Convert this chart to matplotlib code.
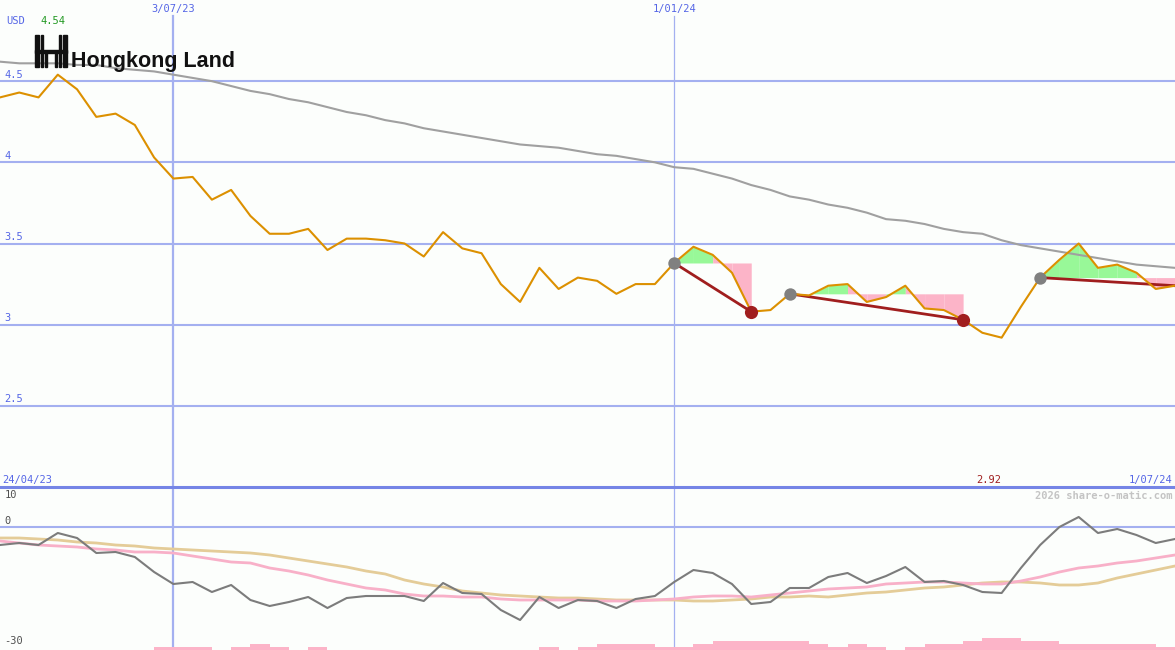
import datetime as dt
import matplotlib
matplotlib.use("Agg")
import matplotlib.pyplot as plt
from matplotlib.patches import Rectangle

# weekly data, first point 1 May 2023
start = dt.date(2023, 5, 1)

price = [4.40, 4.43, 4.40, 4.54, 4.45, 4.28, 4.30, 4.23, 4.03, 3.90,
         3.91, 3.77, 3.83, 3.67, 3.56, 3.56, 3.59, 3.46, 3.53, 3.53,
         3.52, 3.50, 3.42, 3.57, 3.47, 3.44, 3.25, 3.14, 3.35, 3.22,
         3.29, 3.27, 3.19, 3.25, 3.25, 3.38, 3.48, 3.43, 3.32, 3.08,
         3.09, 3.19, 3.18, 3.24, 3.25, 3.14, 3.17, 3.24, 3.10, 3.09,
         3.03, 2.95, 2.92, 3.11, 3.29, 3.40, 3.50, 3.35, 3.37, 3.32,
         3.22, 3.24]

ma_long = [4.62, 4.61, 4.61, 4.61, 4.60, 4.60, 4.58, 4.57, 4.56, 4.54,
           4.52, 4.50, 4.47, 4.44, 4.42, 4.39, 4.37, 4.34, 4.31, 4.29,
           4.26, 4.24, 4.21, 4.19, 4.17, 4.15, 4.13, 4.11, 4.10, 4.09,
           4.07, 4.05, 4.04, 4.02, 4.00, 3.97, 3.96, 3.93, 3.90, 3.86,
           3.83, 3.79, 3.77, 3.74, 3.72, 3.69, 3.65, 3.64, 3.62, 3.59,
           3.57, 3.56, 3.52, 3.49, 3.47, 3.45, 3.43, 3.41, 3.39, 3.37,
           3.36, 3.35]

osc = [-4.5, -4.0, -4.5, -1.5, -2.75, -6.5, -6.25, -7.5, -11.25, -14.25,
       -13.75, -16.25, -14.5, -18.25, -19.75, -18.75, -17.5, -20.25, -17.75, -17.25,
       -17.25, -17.25, -18.5, -14.0, -16.5, -16.75, -20.75, -23.25, -17.5, -20.25,
       -18.25, -18.5, -20.25, -18.0, -17.25, -13.75, -10.75, -11.5, -14.25, -19.25,
       -18.75, -15.25, -15.25, -12.5, -11.5, -14.0, -12.25, -10.0, -13.75, -13.5,
       -14.5, -16.25, -16.5, -10.25, -4.5, 0.0, 2.5, -1.5, -0.5, -2.0,
       -4.0, -3.0]

osc_fast = [-3.5, -4.0, -4.5, -4.75, -5.0, -5.5, -5.75, -6.25, -6.25, -6.5,
            -7.25, -8.0, -8.75, -9.0, -10.25, -11.0, -12.0, -13.25, -14.25, -15.25,
            -15.75, -16.75, -17.25, -17.25, -17.5, -17.5, -18.0, -18.25, -18.25, -18.25,
            -18.25, -18.5, -18.5, -18.5, -18.25, -18.0, -17.5, -17.25, -17.25, -17.5,
            -17.0, -16.5, -16.0, -15.5, -15.25, -15.0, -14.25, -14.0, -13.75, -13.75,
            -14.0, -14.25, -14.25, -13.5, -12.5, -11.25, -10.25, -9.75, -9.0, -8.5,
            -7.75, -7.0]

osc_slow = [-2.75, -2.75, -3.0, -3.25, -3.75, -4.0, -4.5, -4.75, -5.25, -5.5,
            -5.75, -6.0, -6.25, -6.5, -7.0, -7.75, -8.5, -9.25, -10.0, -11.0,
            -11.75, -13.25, -14.25, -15.0, -16.0, -16.5, -17.0, -17.25, -17.5, -17.75,
            -17.75, -18.0, -18.25, -18.25, -18.25, -18.25, -18.5, -18.5, -18.25, -18.0,
            -17.5, -17.5, -17.25, -17.5, -17.0, -16.5, -16.25, -15.75, -15.25, -15.0,
            -14.5, -14.0, -13.75, -13.75, -14.0, -14.5, -14.5, -14.0, -12.75, -11.75,
            -10.75, -9.75]

vol_level = [0, 0, 0, 0, 0, 0, 0, 0, 1, 1,
             1, 0, 1, 2, 1, 0, 1, 0, 0, 0,
             0, 0, 0, 0, 0, 0, 0, 0, 1, 0,
             1, 2, 2, 2, 1, 1, 2, 3, 3, 3,
             3, 3, 2, 1, 2, 1, 0, 1, 2, 2,
             3, 4, 4, 3, 3, 2, 2, 2, 2, 2,
             1, 1]

# swing segments: start point, end point
trend_start = [35, 41, 54]
trend_end = [39, 50, 61]
low_marks = [39, 50]

price_ticks = [2.5, 3, 3.5, 4, 4.5]
osc_ticks = [10, 0, -30]
date_marks = [dt.date(2023, 7, 3), dt.date(2024, 1, 1)]
date_labels = ["3/07/23", "1/01/24"]

dates = [start + dt.timedelta(weeks=i) for i in range(len(price))]

BG = "#fcfefc"
GRID = "#a4b0f0"
LABEL = "#5566e6"
GREEN = "#98f898"
PINK = "#fcb4c8"
TREND = "#a01e1e"
MONO = "DejaVu Sans Mono"

fig = plt.figure(figsize=(11.75, 6.5), dpi=100, facecolor=BG)
ax = fig.add_axes([0, 163 / 650, 1, 487 / 650])
ax_low = fig.add_axes([0, 0, 1, 163 / 650])
for a in (ax, ax_low):
    a.set_axis_off()
    a.set_xlim(start, dates[-1])
ax.set_ylim(2.0, 5.0)
ax_low.set_ylim(-30.75, 10)

# price panel
for t in price_ticks:
    ax.axhline(t, color=GRID, lw=1.5, zorder=0)
    ax.text(0.004, t + 0.01, f"{t:g}", transform=ax.get_yaxis_transform(),
            color=LABEL, fontsize=7.5, family=MONO, va="bottom")
ax.axvline(date_marks[0], ymax=1 - 16 / 487, color=GRID, lw=1.6, zorder=0)
ax.axvline(date_marks[1], ymax=1 - 16 / 487, color=GRID, lw=0.9, zorder=0)
for d, lab in zip(date_marks, date_labels):
    ax.text(d, 0.992, lab, transform=ax.get_xaxis_transform(), ha="center",
            va="top", color=LABEL, fontsize=7.5, family=MONO)

ax.plot(dates, ma_long, color="#a0a0a0", lw=1.5, zorder=2)

for s, e in zip(trend_start, trend_end):
    level = price[s]
    for i in range(s, e):
        c = GREEN if price[i + 1] >= level else PINK
        ax.fill_between(dates[i:i + 2], price[i:i + 2], level, color=c, lw=0, zorder=1)
    ax.plot([dates[s], dates[e]], [price[s], price[e]], color=TREND, lw=2.0, zorder=3)

ax.plot(dates, price, color="#dc9000", lw=1.5, zorder=4)
ax.scatter([dates[s] for s in trend_start], [price[s] for s in trend_start],
           s=80, color="#808080", zorder=5, lw=0)
ax.scatter([dates[i] for i in low_marks], [price[i] for i in low_marks],
           s=90, color=TREND, zorder=5, lw=0)

hi = max(price)
lo = min(price)
ax.text(0.005, 0.951, "USD", transform=ax.transAxes, color=LABEL, fontsize=7.5, family=MONO)
ax.text(0.034, 0.951, f"{hi:.2f}", transform=ax.transAxes, color="#229922",
        fontsize=7.5, family=MONO)

# logo
bars = [(35, 4), (41, 2), (59, 2), (63, 4)]
for x0, w in bars:
    fig.patches.append(Rectangle((x0 / 1175, 1 - 67 / 650), w / 1175, 32 / 650,
                                 transform=fig.transFigure, color="#111111"))
fig.patches.append(Rectangle((35 / 1175, 1 - 53 / 650), 32 / 1175, 3 / 650,
                             transform=fig.transFigure, color="#111111"))
fig.patches.append(Rectangle((45 / 1175, 1 - 67 / 650), 2 / 1175, 14 / 650,
                             transform=fig.transFigure, color="#111111"))
fig.patches.append(Rectangle((55 / 1175, 1 - 67 / 650), 2 / 1175, 14 / 650,
                             transform=fig.transFigure, color="#111111"))
fig.text(71 / 1175, 1 - 67 / 650, "Hongkong Land", fontsize=15.5, weight="bold",
         family="Liberation Sans", color="#111111", va="baseline")

# oscillator panel
ax_low.axhline(10, color="#7585e6", lw=2.2, zorder=3, clip_on=False)
ax_low.axhline(0, color=GRID, lw=1.5, zorder=0)
ax_low.axvline(date_marks[0], color=GRID, lw=1.6, zorder=0)
ax_low.axvline(date_marks[1], color=GRID, lw=0.9, zorder=0)

ax_bar = ax_low.twinx()
ax_bar.set_axis_off()
ax_bar.set_ylim(0, 54)
ax_bar.bar(dates, vol_level, width=7, align="edge", color=PINK, lw=0)

ax_low.plot(dates, osc_slow, color="#e4cc98", lw=2.0, zorder=2)
ax_low.plot(dates, osc_fast, color="#f8b0c8", lw=2.0, zorder=2)
ax_low.plot(dates, osc, color="#7c7c7c", lw=1.5, zorder=3)

for t in osc_ticks:
    y = min(t + 1.5, 8.0)
    ax_low.text(0.004, y, f"{t:g}", transform=ax_low.get_yaxis_transform(),
                color="#505050", fontsize=7.5, family=MONO, va="center")

ax_low.text(0.002, 10.4, "24/04/23", transform=ax_low.get_yaxis_transform(),
            color=LABEL, fontsize=7.5, family=MONO, va="bottom")
ax_low.text(dates[price.index(lo)], 10.4, f"{lo:.2f}", color=TREND, fontsize=7.5,
            family=MONO, va="bottom", ha="right")
ax_low.text(0.998, 10.4, "1/07/24", transform=ax_low.get_yaxis_transform(),
            color=LABEL, fontsize=7.5, family=MONO, va="bottom", ha="right")
ax_low.text(0.998, 7.8, "2026 share-o-matic.com", transform=ax_low.get_yaxis_transform(),
            color="#c4c4c4", fontsize=7.5, family=MONO, weight="bold", va="center", ha="right")

fig.savefig("out.png", dpi=100, facecolor=BG)
